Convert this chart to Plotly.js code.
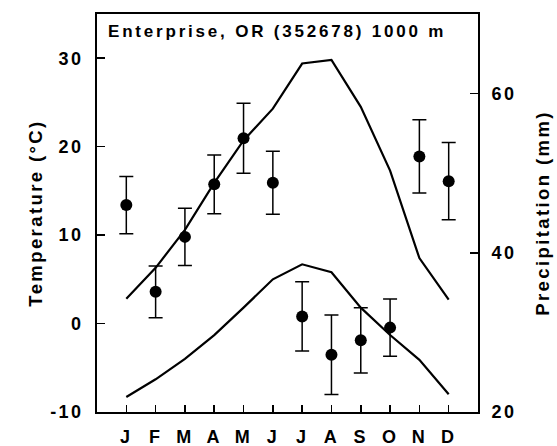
<!DOCTYPE html>
<html>
<head>
<meta charset="utf-8">
<script src="https://cdn.plot.ly/plotly-3.0.1.min.js"></script>
<style>
html,body{margin:0;padding:0;background:#fff;}
#chart{width:557px;height:446px;}
#chart svg text{letter-spacing:2.4px;}
#chart svg .gtitle{letter-spacing:2.8px;}
</style>
</head>
<body>
<div id="chart"></div>
<script>
const months = [1,2,3,4,5,6,7,8,9,10,11,12];
const monthLabels = ["J","F","M","A","M","J","J","A","S","O","N","D"];
const tmax = [2.8, 6.3, 10.6, 15.9, 20.7, 24.3, 29.4, 29.8, 24.5, 17.3, 7.4, 2.7];
const tmin = [-8.3, -6.3, -4.0, -1.3, 1.8, 5.0, 6.7, 5.8, 1.8, -1.3, -4.1, -8.0];
const precip = [46.0, 35.1, 42.0, 48.6, 54.4, 48.8, 32.0, 27.2, 29.0, 30.6, 52.1, 49.0];
const precipErr = [3.6, 3.25, 3.6, 3.7, 4.4, 3.95, 4.35, 5.0, 4.1, 3.6, 4.6, 4.85];
const tempTicks = [-10, 0, 10, 20, 30];
const tempTickText = ["-10", "0", "10", "20", "30"];
const precipTicks = [20, 40, 60];
const precipTickText = ["20", "40", "60"];

const FONT = "Liberation Sans, Arial, sans-serif";

const traces = [
  {x: months, y: tmax, yaxis: 'y', type: 'scatter', mode: 'lines',
   line: {color: '#000', width: 2.2}, hoverinfo: 'skip'},
  {x: months, y: tmin, yaxis: 'y', type: 'scatter', mode: 'lines',
   line: {color: '#000', width: 2.2}, hoverinfo: 'skip'},
  {x: months, y: precip, yaxis: 'y2', type: 'scatter', mode: 'markers',
   marker: {color: '#000', size: 12},
   error_y: {type: 'data', array: precipErr, visible: true, color: '#000', thickness: 1.5, width: 7},
   hoverinfo: 'skip'}
];

const layout = {
  width: 557, height: 446,
  margin: {l: 97, r: 79, t: 14, b: 34, pad: 0},
  paper_bgcolor: '#fff', plot_bgcolor: '#fff',
  showlegend: false,
  font: {family: FONT, color: '#000', size: 17, weight: 'bold'},
  title: {
    text: 'Enterprise, OR (352678) 1000 m',
    font: {family: FONT, size: 17, color: '#000', weight: 'bold'},
    xref: 'paper', x: 11/381, xanchor: 'left',
    yref: 'container', y: 1 - 31/446, yanchor: 'middle'
  },
  xaxis: {
    range: [0, 13], tickmode: 'array', tickvals: months, ticktext: monthLabels,
    ticks: 'inside', ticklen: 7, tickwidth: 1.5, tickcolor: '#000',
    showline: true, linecolor: '#000', linewidth: 2, mirror: true,
    showgrid: false, zeroline: false,
    tickfont: {family: FONT, size: 18, color: '#000', weight: 'bold'},
    ticklabelstandoff: 7
  },
  yaxis: {
    range: [-10, 35], tickmode: 'array', tickvals: tempTicks, ticktext: tempTickText,
    ticks: 'inside', ticklen: 8, tickwidth: 1.5, tickcolor: '#000',
    showline: true, linecolor: '#000', linewidth: 2,
    showgrid: false, zeroline: false,
    tickfont: {family: FONT, size: 18, color: '#000', weight: 'bold'},
    ticklabelstandoff: 8,
    title: {text: 'Temperature (°C)', font: {family: FONT, size: 18.5, color: '#000', weight: 'bold'}, standoff: 10}
  },
  yaxis2: {
    overlaying: 'y', side: 'right',
    range: [20, 70], tickmode: 'array', tickvals: precipTicks, ticktext: precipTickText,
    ticks: 'inside', ticklen: 8, tickwidth: 1.5, tickcolor: '#000',
    showline: true, linecolor: '#000', linewidth: 2,
    showgrid: false, zeroline: false,
    tickfont: {family: FONT, size: 18, color: '#000', weight: 'bold'},
    ticklabelstandoff: 8,
    title: {text: 'Precipitation (mm)', font: {family: FONT, size: 18.5, color: '#000', weight: 'bold'}, standoff: 25}
  }
};

Plotly.newPlot('chart', traces, layout, {displayModeBar: false, staticPlot: true});
</script>
</body>
</html>
